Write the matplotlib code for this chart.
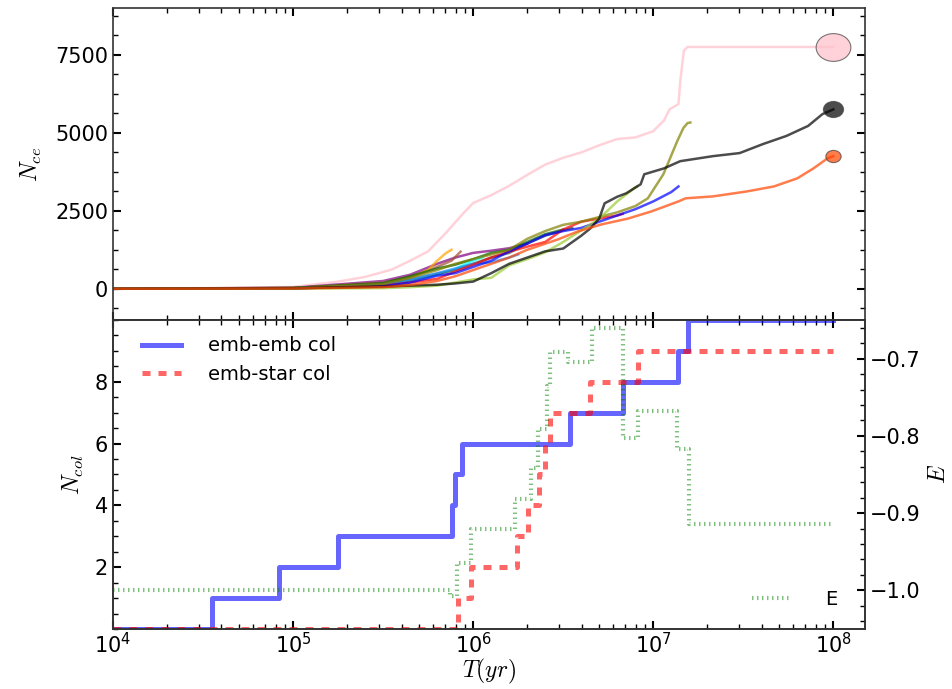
import matplotlib
matplotlib.use("Agg")
import matplotlib.pyplot as plt
import numpy as np
from matplotlib.path import Path
from matplotlib.transforms import Affine2D
from matplotlib.ticker import MultipleLocator, LogLocator, NullFormatter, FixedLocator


# Cumulative close encounters of each run, time given as log10(T / yr)
pink_logt = [4.0, 4.5, 5.0, 5.25, 5.4, 5.55, 5.65, 5.75, 5.85, 5.95, 6.0, 6.1, 6.2, 6.3, 6.4, 6.5,
             6.6, 6.7, 6.8, 6.9, 7.0, 7.06, 7.09, 7.14, 7.15, 7.17, 7.19, 8.0]
pink_n = [0, 20, 60, 230, 380, 620, 900, 1200, 1800, 2450, 2750, 3000, 3300, 3650, 3980, 4200,
          4370, 4600, 4800, 4850, 5050, 5400, 5750, 5920, 6650, 7630, 7750, 7750]

purple_logt = [4.0, 5.0, 5.5, 5.65, 5.8, 5.9, 6.0, 6.1, 6.2, 6.3]
purple_n = [0, 30, 250, 450, 800, 1000, 1150, 1220, 1300, 1450]

brown_logt = [4.0, 5.0, 5.5, 5.65, 5.8, 5.88, 5.93]
brown_n = [0, 25, 200, 380, 700, 900, 1190]

orange_logt = [4.0, 5.0, 5.5, 5.65, 5.75, 5.8, 5.85, 5.88]
orange_n = [0, 20, 150, 350, 600, 900, 1150, 1250]

dgreen_logt = [4.0, 5.0, 5.5, 5.65, 5.8, 5.9, 6.0, 6.1, 6.2, 6.3, 6.4, 6.5]
dgreen_n = [0, 25, 180, 400, 650, 770, 950, 1150, 1250, 1500, 1750, 1900]

cyan_logt = [4.0, 5.0, 5.5, 5.65, 5.8, 5.9, 6.0, 6.05]
cyan_n = [0, 15, 100, 250, 450, 640, 900, 1000]

teal_logt = [4.0, 5.0, 5.5, 5.65, 5.8, 5.9, 6.0, 6.1, 6.2, 6.3, 6.4, 6.5, 6.55]
teal_n = [0, 15, 120, 280, 480, 600, 800, 1000, 1150, 1450, 1700, 1880, 1950]

lblue_logt = [4.0, 5.0, 5.5, 5.65, 5.8, 5.9, 6.0, 6.1, 6.2, 6.25]
lblue_n = [0, 15, 120, 300, 500, 650, 800, 850, 1000, 1100]

red_run_logt = [4.0, 5.0, 5.5, 5.65, 5.8, 5.9, 6.0, 6.1, 6.2, 6.3, 6.4, 6.5, 6.6, 6.7, 6.8, 6.83]
red_run_n = [0, 10, 100, 200, 320, 550, 770, 1000, 1190, 1350, 1500, 1900, 2150, 2250, 2350, 2400]

blue_run_logt = [4.0, 5.0, 5.5, 5.65, 5.8, 5.9, 6.0, 6.1, 6.2, 6.3, 6.4, 6.5, 6.6, 6.7, 6.8,
                 6.9, 7.0, 7.05, 7.1, 7.14]
blue_run_n = [0, 10, 80, 200, 420, 500, 700, 900, 1200, 1450, 1720, 1850, 1950, 2150, 2350,
              2550, 2800, 2950, 3100, 3280]

olive_logt = [4.0, 5.0, 5.5, 5.65, 5.8, 5.9, 6.0, 6.1, 6.2, 6.3, 6.4, 6.5, 6.6, 6.7, 6.8, 6.9,
              6.97, 7.056, 7.094, 7.133, 7.167, 7.19, 7.206]
olive_n = [0, 20, 150, 350, 600, 800, 950, 1100, 1250, 1600, 1850, 2050, 2150, 2300, 2450, 2650,
           2900, 3670, 4190, 4730, 5150, 5310, 5330]

ygreen_logt = [4.0, 5.0, 5.5, 5.65, 5.8, 5.9, 6.0, 6.1, 6.15, 6.2, 6.3, 6.4, 6.5, 6.6, 6.7, 6.8,
               6.9, 6.91]
ygreen_n = [0, 5, 20, 50, 100, 200, 300, 350, 550, 750, 950, 1170, 1500, 1870, 2250, 2800,
            3250, 3280]

black_logt = [4.0, 5.0, 5.5, 5.65, 5.8, 5.9, 6.0, 6.1, 6.2, 6.3, 6.4, 6.5, 6.6, 6.65, 6.7, 6.73,
              6.8, 6.85, 6.93, 6.95, 7.06, 7.15, 7.33, 7.48, 7.61, 7.74, 7.86, 7.94, 8.0]
black_n = [0, 20, 70, 100, 130, 170, 230, 500, 800, 1000, 1200, 1290, 1700, 1930, 2250, 2740,
           2950, 3060, 3350, 3670, 3860, 4090, 4250, 4350, 4640, 4900, 5220, 5600, 5750]

ored_logt = [4.0, 5.0, 5.5, 5.65, 5.8, 5.9, 6.0, 6.1, 6.2, 6.3, 6.47, 6.58, 6.71, 6.86, 6.99,
             7.14, 7.18, 7.33, 7.52, 7.67, 7.8, 7.89, 7.97, 8.0]
ored_n = [0, 10, 50, 120, 250, 400, 600, 800, 1000, 1250, 1580, 1835, 2060, 2250, 2480, 2800,
          2900, 2960, 3120, 3280, 3540, 3860, 4190, 4250]

# Collision counts and energy, time as log10(T / yr)
emb_emb_logt = [4.0, 4.55, 4.92, 5.25, 5.883, 5.9, 5.939, 6.539, 6.833, 7.139, 7.194, 8.0]
emb_emb_n = [0, 1, 2, 3, 4, 5, 6, 7, 8, 9, 10, 10]

emb_star_logt = [4.0, 5.917, 5.989, 6.244, 6.306, 6.367, 6.4, 6.428, 6.65, 6.917, 8.0]
emb_star_n = [0, 1, 2, 3, 4, 5, 6, 7, 8, 9, 9]

energy_logt = [4.0, 5.872, 5.911, 5.989, 6.233, 6.322, 6.361, 6.411, 6.428, 6.528, 6.661,
               6.833, 6.917, 7.133, 7.2, 8.0]
energy = [-1.0, -1.007, -0.965, -0.92, -0.882, -0.842, -0.791, -0.736, -0.691, -0.704, -0.661,
          -0.803, -0.768, -0.817, -0.914, -0.914]


def yr(logt):
    return 10 ** np.asarray(logt, dtype=float)


def style_axis(ax):
    for side in ax.spines.values():
        side.set_linewidth(1.2)
        side.set_color("0.2")
    ax.tick_params(which="major", direction="in", length=6, width=1.5, labelsize=15)
    ax.tick_params(which="minor", direction="in", length=3.5, width=1.0)


fig = plt.figure(figsize=(9.53, 6.89), dpi=100)
ax_top = fig.add_axes([0.1186, 0.5356, 0.7891, 0.4528])
ax_bot = fig.add_axes([0.1186, 0.0871, 0.7891, 0.4485], sharex=ax_top)
ax_e = ax_bot.twinx()

# stretched circle marker for the surviving runs
oval = Path.unit_circle().transformed(Affine2D().scale(1.25, 1.0))

runs = [
    (pink_logt, pink_n, "pink"),
    (purple_logt, purple_n, "purple"),
    (brown_logt, brown_n, "sienna"),
    (orange_logt, orange_n, "orange"),
    (dgreen_logt, dgreen_n, "darkgreen"),
    (cyan_logt, cyan_n, "cyan"),
    (teal_logt, teal_n, "darkslategray"),
    (lblue_logt, lblue_n, "dodgerblue"),
    (red_run_logt, red_run_n, "red"),
    (blue_run_logt, blue_run_n, "blue"),
    (olive_logt, olive_n, "olive"),
    (ygreen_logt, ygreen_n, "yellowgreen"),
    (black_logt, black_n, "black"),
    (ored_logt, ored_n, "orangered"),
]
for logt, n, col in runs:
    ax_top.plot(yr(logt), n, color=col, lw=1.8, alpha=0.7)

# final state of the three runs that reach 1e8 yr
for logt, n, col, size in [(pink_logt, pink_n, "pink", 25),
                           (black_logt, black_n, "black", 14.5),
                           (ored_logt, ored_n, "orangered", 11)]:
    ax_top.plot(yr(logt[-1]), n[-1], marker=oval, ms=size, color=col, alpha=0.7,
                mec="0.25", mew=0.8, ls="none")

ax_top.set_xscale("log")
ax_top.set_xlim(1e4, 1.5e8)
ax_top.set_ylim(-1000, 9000)
ax_top.yaxis.set_major_locator(FixedLocator([0, 2500, 5000, 7500]))
ax_top.yaxis.set_minor_locator(MultipleLocator(625))
ax_top.set_ylabel(r"$N_{ce}$", fontsize=17, math_fontfamily="cm", labelpad=8)
style_axis(ax_top)
ax_top.tick_params(which="both", top=True, right=True, labelbottom=False)

# collisions
ax_bot.plot(yr(emb_emb_logt), emb_emb_n, drawstyle="steps-post", color="blue", alpha=0.6,
            lw=3.6, label="emb-emb col")
ax_bot.plot(yr(emb_star_logt), emb_star_n, drawstyle="steps-post", color="red", alpha=0.6,
            lw=3.6, ls=(0, (1.6, 1.6)), label="emb-star col")
ax_bot.set_ylim(0, 10)
ax_bot.yaxis.set_major_locator(FixedLocator([2, 4, 6, 8]))
ax_bot.yaxis.set_minor_locator(MultipleLocator(0.5))
ax_bot.xaxis.set_major_locator(LogLocator(base=10, numticks=10))
ax_bot.xaxis.set_minor_locator(LogLocator(base=10, subs=np.arange(2, 10), numticks=20))
ax_bot.xaxis.set_minor_formatter(NullFormatter())
ax_bot.set_ylabel(r"$N_{col}$", fontsize=17, math_fontfamily="cm", labelpad=6)
ax_bot.set_xlabel(r"$T(yr)$", fontsize=17, math_fontfamily="cm", labelpad=0)
style_axis(ax_bot)
ax_bot.tick_params(which="both", top=True, right=False)
ax_bot.tick_params(axis="x", which="major", pad=2)
ax_bot.legend(loc="upper left", bbox_to_anchor=(0.013, 1.01), frameon=False, fontsize=14,
              handlelength=2.0, handletextpad=1.4, borderaxespad=0.6)

# energy
ax_e.plot(yr(energy_logt), energy, drawstyle="steps-post", color="green", alpha=0.5,
          lw=3.0, ls=(0, (0.35, 0.85)), label="E")
ax_e.set_ylim(-1.05, -0.65)
ax_e.yaxis.set_major_locator(MultipleLocator(0.1))
ax_e.yaxis.set_minor_locator(MultipleLocator(0.02))
ax_e.set_ylabel(r"$E$", fontsize=17, math_fontfamily="cm")
style_axis(ax_e)
ax_e.legend(loc="lower right", bbox_to_anchor=(1.0, -0.023), frameon=False, fontsize=14,
            handlelength=2.0, handletextpad=1.8, borderaxespad=1.0)

fig.savefig("out.png", dpi=100)
